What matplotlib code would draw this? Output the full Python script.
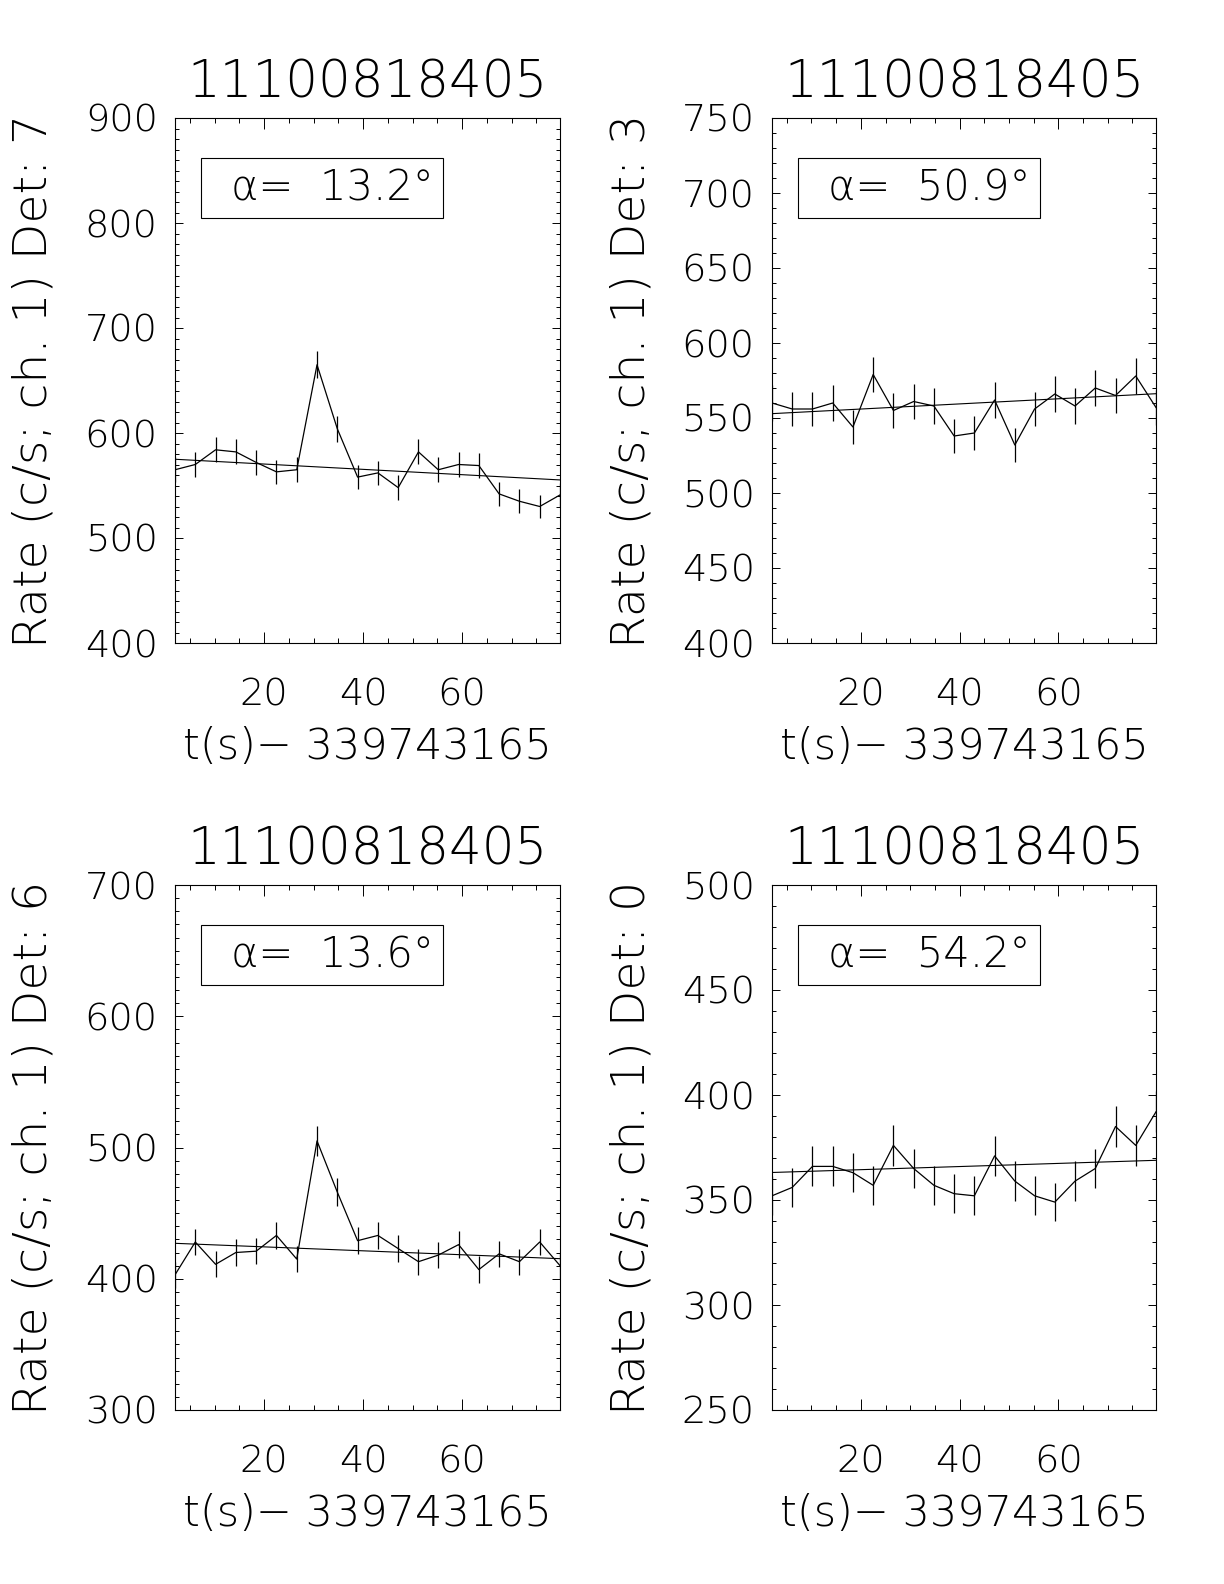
"""
BAT light curves, 4 detectors (ch. 1), with linear background fit
"""
import matplotlib
matplotlib.use("Agg")
import matplotlib.pyplot as plt
from matplotlib.ticker import MultipleLocator
from matplotlib.patches import Rectangle

plt.rcParams['font.family'] = ['DejaVu Sans']
plt.rcParams['font.weight'] = 200
plt.rcParams['axes.titleweight'] = 200
plt.rcParams['axes.labelweight'] = 200

# 데이터
trigger = "11100818405"
t_offset = "339743165"
times = [2.0, 6.1, 10.2, 14.3, 18.4, 22.5, 26.6, 30.7, 34.8, 38.9,
         43.0, 47.1, 51.2, 55.2, 59.3, 63.4, 67.5, 71.6, 75.7, 79.8]

detectors = [7, 3, 6, 0]
angles = [13.2, 50.9, 13.6, 54.2]

rate_det7 = [565, 570, 584, 582, 572, 563, 565, 665, 604, 558,
             562, 548, 582, 565, 570, 569, 542, 535, 530, 541]
err_det7 = [11.7, 11.8, 11.9, 11.9, 11.8, 11.7, 11.7, 12.7, 12.1, 11.7,
            11.7, 11.6, 11.9, 11.7, 11.8, 11.8, 11.5, 11.4, 11.4, 11.5]
fit_det7 = [575, 555.3]

rate_det3 = [560, 556, 556, 560, 544, 579, 555, 561, 558, 538,
             540, 562, 532, 556, 566, 558, 570, 565, 578, 557]
err_det3 = [11.7, 11.6, 11.6, 11.7, 11.5, 11.9, 11.6, 11.7, 11.7, 11.5,
            11.5, 11.7, 11.4, 11.6, 11.8, 11.7, 11.8, 11.7, 11.9, 11.7]
fit_det3 = [552.9, 566.2]

rate_det6 = [403, 428, 411, 420, 421, 433, 415, 505, 466, 429,
             433, 423, 413, 418, 426, 407, 419, 413, 428, 410]
err_det6 = [9.9, 10.2, 10.0, 10.1, 10.1, 10.3, 10.1, 11.1, 10.7, 10.2,
            10.3, 10.2, 10.0, 10.1, 10.2, 10.0, 10.1, 10.0, 10.2, 10.0]
fit_det6 = [427, 415.3]

rate_det0 = [352, 356, 366, 366, 363, 357, 376, 365, 357, 353,
             352, 371, 359, 352, 349, 359, 365, 385, 376, 392]
err_det0 = [9.3, 9.3, 9.5, 9.5, 9.4, 9.3, 9.6, 9.4, 9.3, 9.3,
            9.3, 9.5, 9.4, 9.3, 9.2, 9.4, 9.4, 9.7, 9.6, 9.8]
fit_det0 = [363.1, 368.9]

rates = [rate_det7, rate_det3, rate_det6, rate_det0]
errors = [err_det7, err_det3, err_det6, err_det0]
fits = [fit_det7, fit_det3, fit_det6, fit_det0]
ylims = [(400, 900), (400, 750), (300, 700), (250, 500)]
y_major = [100, 50, 100, 50]

W, H = 1224, 1584
fig = plt.figure(figsize=(W / 100, H / 100), dpi=100)

# 패널 위치 (픽셀: left, top, right, bottom)
boxes = [(175, 118, 560, 643), (772, 118, 1156, 643),
         (175, 885, 560, 1410), (772, 885, 1156, 1410)]

for i, (l, t, r, b) in enumerate(boxes):
    ax = fig.add_axes([l / W, 1 - b / H, (r - l) / W, (b - t) / H])

    ax.errorbar(times, rates[i], yerr=errors[i], color='black', lw=0.9,
                elinewidth=0.9, capsize=0)
    ax.plot([times[0], times[-1]], fits[i], color='black', lw=0.8)

    ax.set_xlim(times[0], times[-1])
    ax.set_ylim(*ylims[i])
    ax.xaxis.set_major_locator(MultipleLocator(20))
    ax.xaxis.set_minor_locator(MultipleLocator(5))
    ax.yaxis.set_major_locator(MultipleLocator(y_major[i]))
    ax.yaxis.set_minor_locator(MultipleLocator(10))

    ax.tick_params(which='both', direction='in', top=True, right=True,
                   width=0.7, colors='black', labelsize=27.5)
    ax.tick_params(axis='x', which='major', length=7.6, pad=25)
    ax.tick_params(axis='x', which='minor', length=3.8)
    ax.tick_params(axis='y', which='major', length=5.5, pad=12.5)
    ax.tick_params(axis='y', which='minor', length=2.8)
    for s in ax.spines.values():
        s.set_linewidth(0.8)

    ax.set_title(trigger, fontsize=37, pad=14.5)
    ax.set_xlabel(f"t(s)\u2212 {t_offset}", fontsize=31)
    ax.xaxis.set_label_coords(0.5, -0.158)
    ax.set_ylabel(f"Rate (c/s; ch. 1) Det: {detectors[i]}", fontsize=34,
                  va='center')
    ax.yaxis.set_label_coords(-0.367, 0.5)

    # 각도 표시 박스
    ax.add_patch(Rectangle((0.067, 0.81), 0.63, 0.113, transform=ax.transAxes,
                           fill=False, lw=0.8, ec='black'))
    ax.text(0.41, 0.866, f"α=  {angles[i]:.1f}°", transform=ax.transAxes,
            ha='center', va='center', fontsize=30)

fig.savefig("out.png", dpi=100)
